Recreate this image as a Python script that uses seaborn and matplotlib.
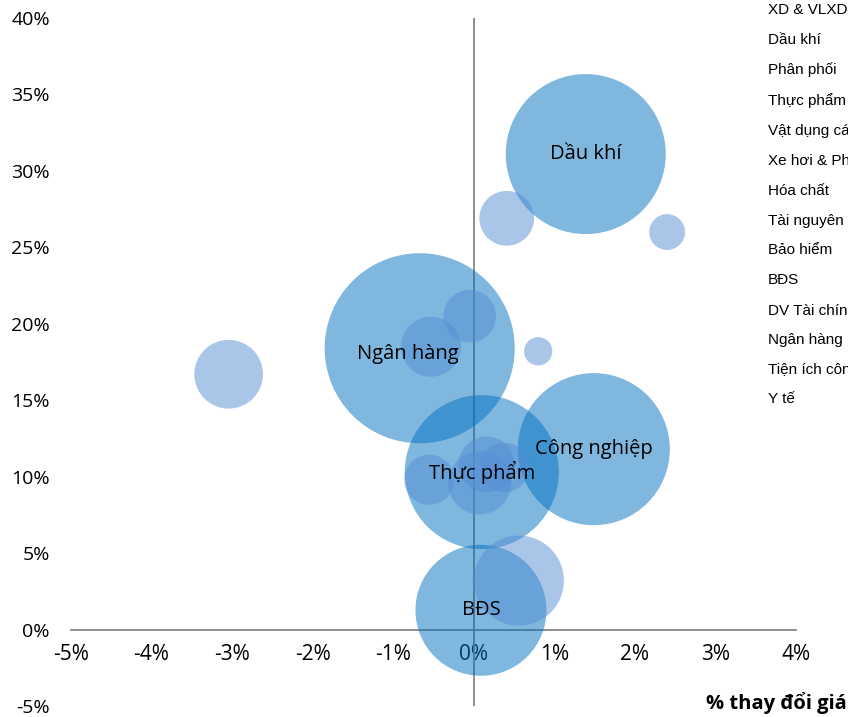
import matplotlib
matplotlib.use("Agg")
import matplotlib.pyplot as plt
import seaborn as sns
import pandas as pd

# ---------------- data ----------------
bubble_labels = ["Ngân hàng", "Dầu khí", "Thực phẩm", "Công nghiệp", "BĐS",
                 "", "", "", "", "", "", "", "", "", "", ""]
price_change = [-0.67, 1.39, 0.10, 1.49, 0.09,
                0.56, -3.04, 0.41, 2.40, 0.80, -0.53, -0.05, -0.55, 0.075, 0.16, 0.38]
y_values = [18.4, 31.1, 10.3, 11.8, 1.26,
            3.2, 16.7, 26.9, 26.0, 18.2, 18.5, 20.5, 9.8, 9.6, 10.8, 10.6]
bubble_size = [90.3, 64.0, 59.3, 57.8, 42.9,
               20.3, 11.8, 7.5, 3.2, 2.0, 9.0, 6.9, 6.3, 10.0, 7.8, 6.1]
group = ["lớn"] * 5 + ["nhỏ"] * 11

legend_names = ["XD & VLXD", "Dầu khí", "Phân phối", "Thực phẩm", "Vật dụng cá nhân",
                "Xe hơi & Phụ tùng", "Hóa chất", "Tài nguyên cơ bản", "Bảo hiểm", "BĐS",
                "DV Tài chính", "Ngân hàng", "Tiện ích công cộng", "Y tế"]

x_ticks = [-5, -4, -3, -2, -1, 0, 1, 2, 3, 4]
y_ticks = [-5, 0, 5, 10, 15, 20, 25, 30, 35, 40]
x_title = "% thay đổi giá"

df = pd.DataFrame({"x": price_change, "y": y_values, "size": bubble_size,
                   "group": group, "label": bubble_labels})

# ---------------- figure ----------------
sns.set_style("white")
plt.rcParams["font.family"] = ["Open Sans", "DejaVu Sans"]

W, H = 848, 717
fig = plt.figure(figsize=(W / 100, H / 100), dpi=100)
ax = fig.add_axes([70.7 / W, (H - 706) / H, 725.4 / W, 688 / H])

palette = {"lớn": "#0070C0", "nhỏ": "#558ED5"}
sns.scatterplot(data=df, x="x", y="y", size="size", sizes=(0, 207.36 * 100),
                size_norm=(0, 100), hue="group", palette=palette, alpha=0.5,
                linewidth=0, legend=False, ax=ax, zorder=3)

ax.set_xlim(-5, 4)
ax.set_ylim(-5, 40)

# axes lines
for s in ["top", "right", "left"]:
    ax.spines[s].set_visible(False)
ax.spines["bottom"].set_position(("data", 0))
ax.spines["bottom"].set_color("#868686")
ax.spines["bottom"].set_linewidth(1.3)
ax.spines["bottom"].set_zorder(1)
ax.axvline(0, color="#868686", lw=1.3, zorder=1)

ax.set_xticks(x_ticks)
ax.set_xticklabels([f"{v}%" for v in x_ticks])
ax.set_yticks(y_ticks)
ax.set_yticklabels([f"{v}%" for v in y_ticks])
ax.tick_params(axis="x", direction="out", length=4.3, width=1.3, color="#868686",
               labelsize=15, pad=6, labelcolor="black")
ax.tick_params(axis="y", length=0, labelsize=14, pad=15, labelcolor="black")
ax.set_xlabel("")
ax.set_ylabel("")
ax.grid(False)

# bubble labels
label_offsets = {"Ngân hàng": (-8.5, -4.3)}
for _, r in df.iterrows():
    if r["label"]:
        dx, dy = label_offsets.get(r["label"], (0, 0))
        ax.annotate(r["label"], (r["x"], r["y"]), xytext=(dx, dy),
                    textcoords="offset points", ha="center", va="center",
                    fontsize=14.5, color="black", zorder=5)

# legend (text only, cut by figure edge as in the reference)
leg_y = [10, 40, 70, 101, 131, 161, 191, 221, 250, 280, 311, 340, 370, 399]
for name, yp in zip(legend_names, leg_y):
    fig.text(768 / W, 1 - yp / H, name, ha="left", va="center", fontsize=11,
             family=["Liberation Sans", "DejaVu Sans"], color="black")

fig.text(706 / W, 1 - 703 / H, x_title, ha="left", va="center", fontsize=14.5,
         fontweight="bold", color="black")

fig.savefig("out.png", dpi=100)
